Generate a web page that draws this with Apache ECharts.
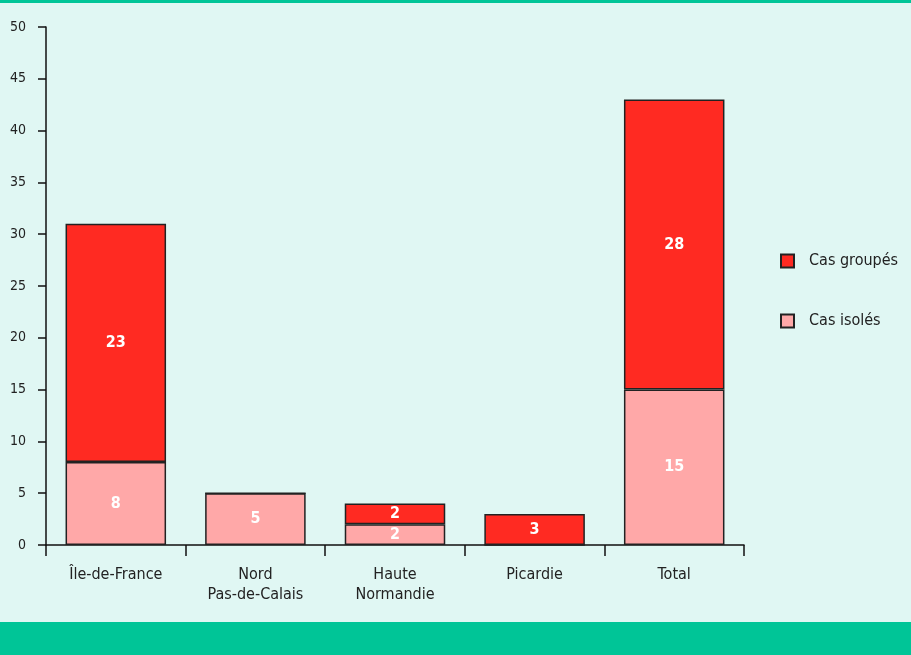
<!DOCTYPE html>
<html>
<head>
<meta charset="utf-8">
<script src="https://cdn.jsdelivr.net/npm/echarts@6/dist/echarts.min.js"></script>
<style>
  html, body { margin: 0; padding: 0; background: #e0f7f3; }
  #chart { width: 911px; height: 655px; }
</style>
</head>
<body>
<div id="chart"></div>
<script>
const regions = ['Île-de-France', 'Nord\nPas-de-Calais', 'Haute\nNormandie', 'Picardie', 'Total'];
const casIsoles = [8, 5, 2, 0, 15];
const casGroupes = [23, 0, 2, 3, 28];
const yTicks = { min: 0, max: 50, interval: 5 };

const font = '"Liberation Sans Narrow", "DejaVu Sans Condensed", sans-serif';
const chart = echarts.init(document.getElementById('chart'));

const labelStyle = {
    show: true,
    position: 'inside',
    color: '#ffffff',
    fontWeight: 'bold',
    fontSize: 16,
    fontFamily: font,
    formatter: p => (p.value ? p.value : '')
};

chart.setOption({
    backgroundColor: '#e0f7f3',
    animation: false,
    graphic: [
        { type: 'rect', left: 0, top: 0, shape: { width: 911, height: 3 }, style: { fill: '#00c597' } },
        { type: 'rect', left: 0, top: 622, shape: { width: 911, height: 33 }, style: { fill: '#00c597' } }
    ],
    grid: { left: 46, right: 167, top: 27, bottom: 110 },
    legend: {
        orient: 'vertical',
        left: 775,
        top: 248,
        itemWidth: 13,
        itemHeight: 13,
        itemGap: 44,
        icon: 'rect',
        data: ['Cas groupés', 'Cas isolés'],
        textStyle: { fontFamily: font, fontSize: 16, color: '#222', padding: [0, 0, 0, 10] }
    },
    xAxis: {
        type: 'category',
        data: regions,
        axisLine: { lineStyle: { color: '#111', width: 1.5 } },
        axisTick: { show: true, length: 11, lineStyle: { color: '#111', width: 1.5 } },
        axisLabel: { fontFamily: font, fontSize: 16, color: '#222', margin: 20, lineHeight: 20 }
    },
    yAxis: {
        type: 'value',
        min: yTicks.min,
        max: yTicks.max,
        interval: yTicks.interval,
        axisLine: { show: true, lineStyle: { color: '#111', width: 1.5 } },
        axisTick: { show: true, length: 8, lineStyle: { color: '#111', width: 1.5 } },
        axisLabel: { fontFamily: font, fontSize: 14, color: '#222', margin: 20 },
        splitLine: { show: false }
    },
    series: [
        {
            name: 'Cas isolés',
            type: 'bar',
            stack: 'total',
            barWidth: '72%',
            data: casIsoles,
            itemStyle: { color: '#ffa8a8', borderColor: '#222', borderWidth: 1.5 },
            label: labelStyle
        },
        {
            name: 'Cas groupés',
            type: 'bar',
            stack: 'total',
            data: casGroupes,
            itemStyle: { color: '#ff2a22', borderColor: '#222', borderWidth: 1.5 },
            label: labelStyle
        }
    ]
});
</script>
</body>
</html>
